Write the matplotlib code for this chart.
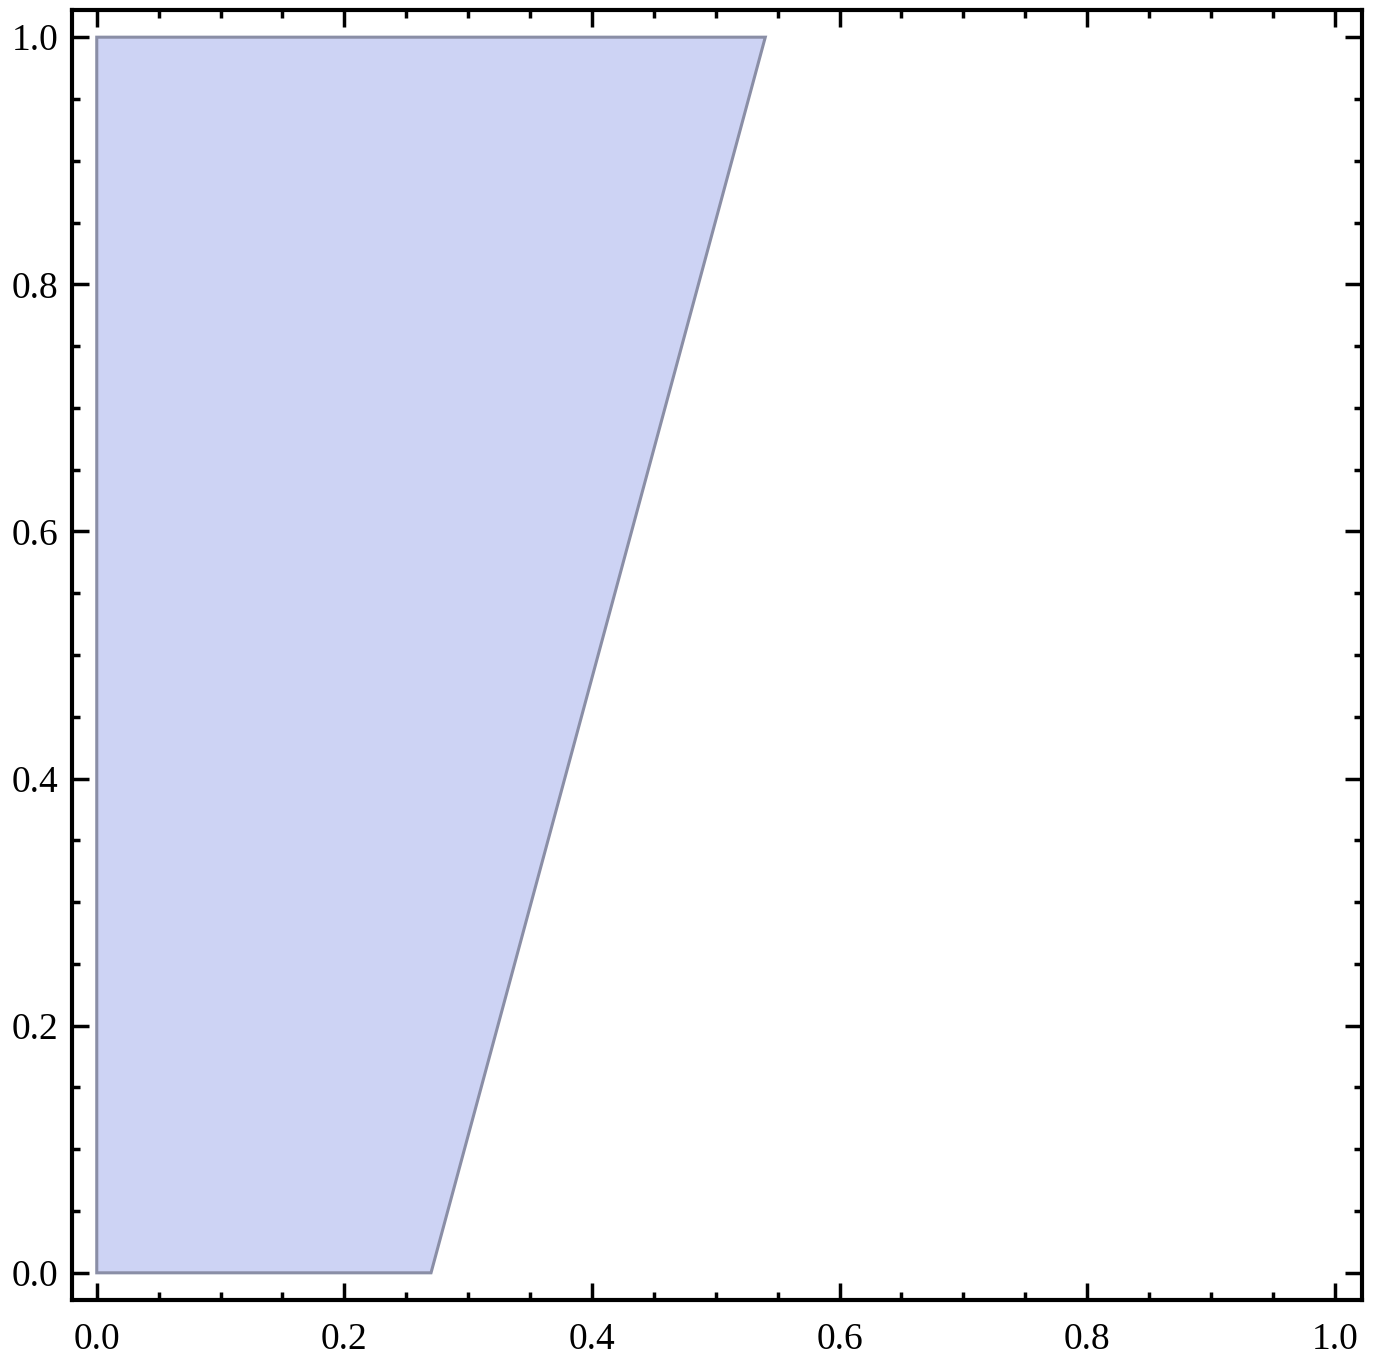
import matplotlib
matplotlib.use('Agg')
import matplotlib.pyplot as plt
from matplotlib.ticker import MultipleLocator

matplotlib.rcParams['font.family'] = 'Liberation Serif'
matplotlib.rcParams['font.size'] = 27

# region corners (x, y)
region_x = [0.0, 0.27, 0.54, 0.0]
region_y = [0.0, 0.0, 1.0, 1.0]

fig = plt.figure(figsize=(13.77, 13.63), dpi=100)
ax = fig.add_axes([72 / 1377, 63 / 1363, 1290 / 1377, 1290 / 1363])

ax.fill(region_x, region_y, facecolor='#cdd3f4', edgecolor='#8a8ea6', linewidth=2.2, joinstyle='miter')

ax.set_xlim(-0.02, 1.022)
ax.set_ylim(-0.022, 1.022)

ax.xaxis.set_major_locator(MultipleLocator(0.2))
ax.xaxis.set_minor_locator(MultipleLocator(0.05))
ax.yaxis.set_major_locator(MultipleLocator(0.2))
ax.yaxis.set_minor_locator(MultipleLocator(0.05))
ax.xaxis.set_major_formatter(lambda v, p: f'{v:.1f}')
ax.yaxis.set_major_formatter(lambda v, p: f'{v:.1f}')

ax.tick_params(which='both', direction='in', top=True, right=True, width=2.5, color='black')
ax.tick_params(which='major', length=12)
ax.tick_params(which='minor', length=6)
ax.tick_params(axis='x', which='major', pad=16)
ax.tick_params(axis='y', which='major', pad=10)
for s in ax.spines.values():
    s.set_linewidth(3)

plt.savefig('out.png', dpi=100)
